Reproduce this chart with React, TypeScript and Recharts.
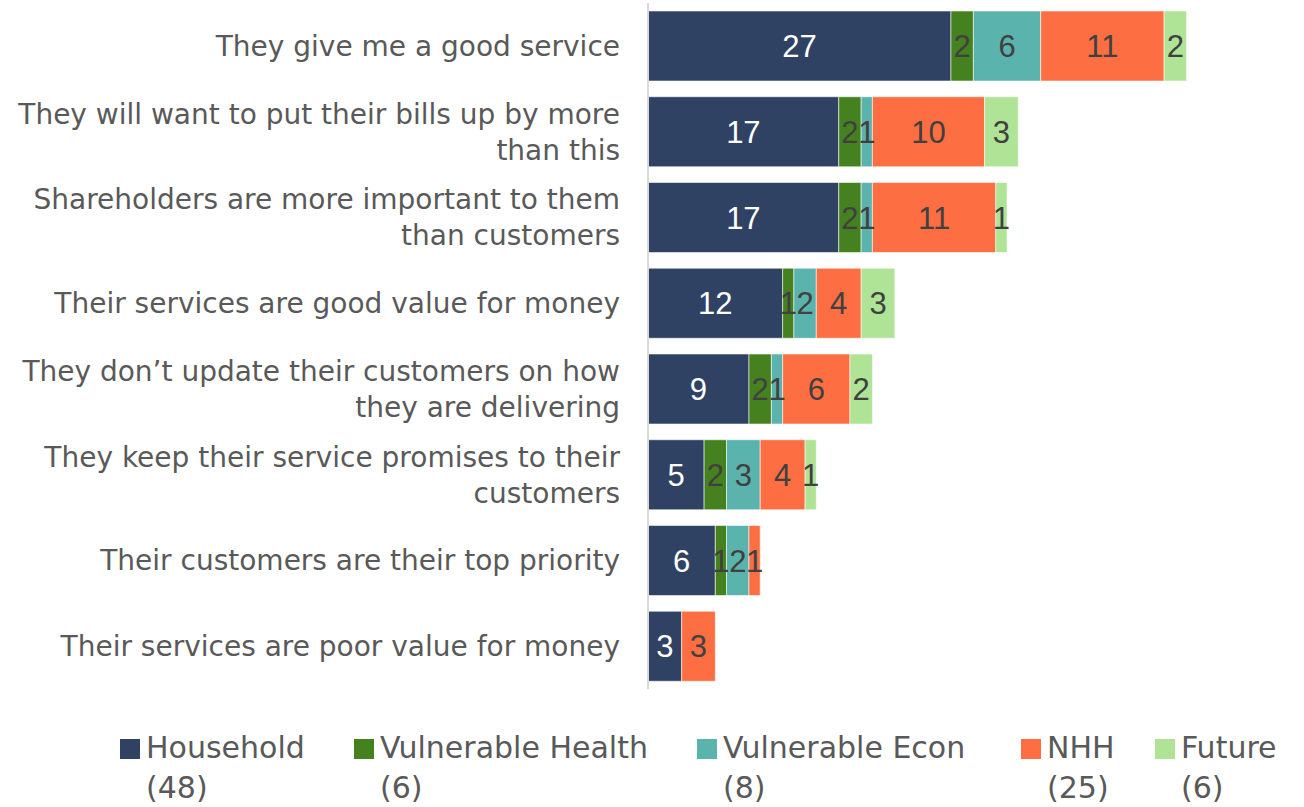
import React from "react";
import { BarChart, Bar, XAxis, YAxis, LabelList, Legend } from "recharts";

const categories = [
  "They give me a good service",
  "They will want to put their bills up by more than this",
  "Shareholders are more important to them than customers",
  "Their services are good value for money",
  "They don\u2019t update their customers on how they are delivering",
  "They keep their service promises to their customers",
  "Their customers are their top priority",
  "Their services are poor value for money",
];

const seriesNames = [
  "Household (48)",
  "Vulnerable Health (6)",
  "Vulnerable Econ (8)",
  "NHH (25)",
  "Future (6)",
];
const seriesKeys = ["household", "vulnHealth", "vulnEcon", "nhh", "future"];
const seriesColors = ["#2F4264", "#45821F", "#5AB3AC", "#FD6F42", "#AFE396"];

const household = [27, 17, 17, 12, 9, 5, 6, 3];
const vulnHealth = [2, 2, 2, 1, 2, 2, 1, 0];
const vulnEcon = [6, 1, 1, 2, 1, 3, 2, 0];
const nhh = [11, 10, 11, 4, 6, 4, 1, 3];
const future = [2, 3, 1, 3, 2, 1, 0, 0];

const seriesValues = [household, vulnHealth, vulnEcon, nhh, future];

const data = categories.map((c, i) => {
  const row: Record<string, any> = { name: c };
  seriesKeys.forEach((k, j) => {
    row[k] = seriesValues[j][i];
  });
  return row;
});

const FONT = "'DejaVu Sans', sans-serif";
const NUMFONT = "'Liberation Sans', Arial, sans-serif";
const TEXT = "#595959";

let ctx: CanvasRenderingContext2D | null = null;
function measure(t: string, size: number) {
  if (!ctx) {
    const c = document.createElement("canvas");
    ctx = c.getContext("2d");
  }
  if (!ctx) return t.length * size * 0.55;
  ctx.font = `${size}px ${FONT}`;
  return ctx.measureText(t).width;
}

function wrap(text: string, maxW: number, size: number) {
  const words = text.split(" ");
  const lines: string[] = [];
  let cur = "";
  words.forEach((w) => {
    const test = cur ? cur + " " + w : w;
    if (measure(test, size) > maxW && cur) {
      lines.push(cur);
      cur = w;
    } else cur = test;
  });
  if (cur) lines.push(cur);
  return lines;
}

const CategoryTick = (props: any) => {
  const { y, payload } = props;
  const size = 28;
  const lines = wrap(payload.value, 612, size);
  const lh = 36;
  const startY = y - ((lines.length - 1) * lh) / 2;
  const tx = 620;
  return (
    <text
      x={tx}
      y={startY}
      textAnchor="end"
      fontFamily={FONT}
      fontSize={size}
      fill={TEXT}
    >
      {lines.map((l, i) => (
        <tspan key={i} x={tx} y={startY + i * lh} dy="0.36em">
          {l}
        </tspan>
      ))}
    </text>
  );
};

const legendX = [120, 354, 697, 1021, 1155];

const renderLegend = () => (
  <div style={{ position: "relative", width: 1304, height: 80 }}>
    {seriesNames.map((n, i) => {
      const idx = n.lastIndexOf(" ");
      const main = n.slice(0, idx);
      const count = n.slice(idx + 1);
      return (
        <div
          key={n}
          style={{
            position: "absolute",
            left: legendX[i],
            top: 0,
            fontFamily: FONT,
            fontSize: 30,
            color: TEXT,
            lineHeight: "40px",
            whiteSpace: "nowrap",
          }}
        >
          <span
            style={{
              display: "inline-block",
              width: 20,
              height: 20,
              background: seriesColors[i],
              marginRight: 6,
              verticalAlign: "-1px",
            }}
          />
          {main}
          <div style={{ paddingLeft: 26 }}>{count}</div>
        </div>
      );
    })}
  </div>
);

export default function App() {
  return (
    <div style={{ position: "absolute", left: 0, top: 0, width: 1304, height: 807, background: "#fff" }}>
      <BarChart
        width={1304}
        height={807}
        data={data}
        layout="vertical"
        margin={{ top: 3, right: 95, left: 0, bottom: 38 }}
        barSize={70}
      >
        <XAxis type="number" domain={[0, 50]} hide />
        <YAxis
          type="category"
          dataKey="name"
          width={648}
          axisLine={{ stroke: "#d9d9d9", strokeWidth: 2 }}
          tickLine={false}
          tick={<CategoryTick />}
          interval={0}
        />
        {seriesKeys.map((k, i) => (
          <Bar
            key={k}
            dataKey={k}
            name={seriesNames[i]}
            stackId="a"
            fill={seriesColors[i]}
            stroke="rgba(255,255,255,0.55)"
            strokeWidth={1}
            isAnimationActive={false}
          >
            <LabelList
              dataKey={k}
              position="center"
              formatter={(v: any) => (v ? v : "")}
              fill={i === 0 ? "#ffffff" : "#404040"}
              fontSize={31}
              fontFamily={NUMFONT}
            />
          </Bar>
        ))}
        <Legend
          verticalAlign="bottom"
          content={renderLegend}
          wrapperStyle={{ position: "absolute", left: 0, top: 728, width: 1304, height: 80 }}
        />
      </BarChart>
    </div>
  );
}
